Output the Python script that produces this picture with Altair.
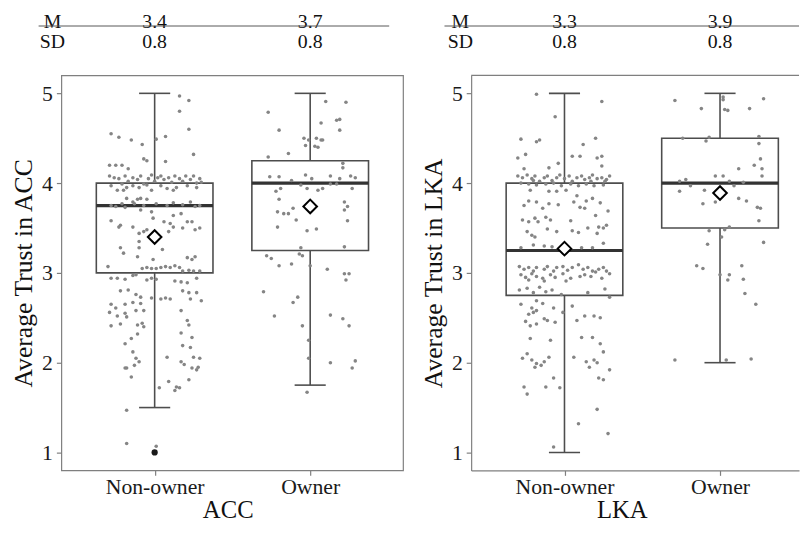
import altair as alt
import pandas as pd

FONT = "Liberation Serif"
PT = "#858585"
BOX = "#4d4d4d"
FRAME = "#7f7f7f"

groups = ["Non-owner", "Owner"]

# summary table above each panel
acc_mean = [3.4, 3.7]
acc_sd = [0.8, 0.8]
lka_mean = [3.3, 3.9]
lka_sd = [0.8, 0.8]

# box statistics
acc_low = [1.5, 1.75]
acc_q1 = [3.0, 3.25]
acc_median = [3.75, 4.0]
acc_q3 = [4.0, 4.25]
acc_high = [5.0, 5.0]
acc_mean_marker = [3.40, 3.74]
acc_outlier_group = ["Non-owner"]
acc_outlier_value = [1.0]

lka_low = [1.0, 2.0]
lka_q1 = [2.75, 3.5]
lka_median = [3.25, 4.0]
lka_q3 = [4.0, 4.5]
lka_high = [5.0, 5.0]
lka_mean_marker = [3.27, 3.89]

# jittered observations: horizontal jitter (category units) and value
acc_non_jit = [0.16, 0.22, 0.16, 0.22, 0.25, -0.28, -0.23, -0.15, 0.01, 0.07, -0.08, -0.07, -0.05, 0.07, -0.29, -0.25, -0.21, -0.17, -0.29,
               -0.26, -0.23, -0.19, -0.17, -0.14, -0.11, -0.09, -0.07, -0.04, -0.02, 0.00, 0.02, 0.04, 0.06, 0.09, 0.11, 0.13, 0.16, 0.18, 0.20, 0.23, 0.25, 0.27, 0.29,
               -0.21, -0.18, -0.14, -0.10, -0.05, 0.04, 0.08, 0.14, 0.21, 0.27, 0.30, -0.28, -0.24, -0.20, -0.02, 0.12,
               -0.28, -0.25, -0.21, -0.19, -0.14, -0.11, -0.09, -0.05, -0.18, -0.13, -0.07, 0.01, 0.08, 0.12, 0.18, 0.23, 0.26, 0.29,
               -0.28, -0.23, -0.22, -0.14, -0.10, -0.07, -0.05, -0.01, 0.06, 0.10, 0.12, 0.17, 0.21, 0.24, 0.29, 0.26, 0.18, 0.12, 0.09, -0.09, -0.02, 0.05, -0.10, -0.10, -0.22, -0.20, -0.11, -0.01, 0.26, 0.24, 0.21,
               -0.30, -0.28, -0.24, -0.19, -0.12, -0.08, -0.05, -0.02, 0.01, 0.04, 0.07, 0.10, 0.13, 0.16, 0.18, 0.22, 0.25, 0.29, -0.02, 0.01, -0.05, -0.14, 0.13, 0.17, 0.21, 0.27,
               -0.22, -0.17, -0.12, -0.09, -0.02, 0.04, 0.07, 0.10, 0.18, 0.22, 0.27, 0.30, 0.23, -0.28, -0.25, -0.19, -0.14, -0.09, -0.29, -0.24, -0.19, -0.18, -0.12, -0.07, 0.17,
               -0.28, -0.22, -0.11, -0.08, -0.07, 0.17, 0.21, 0.22, 0.24, -0.19, -0.15, -0.11, 0.18, 0.23, -0.14, -0.12, 0.25, 0.29, 0.28, 0.27, 0.24, 0.17, 0.19, -0.19, -0.18, -0.10, -0.13, -0.15, 0.08, 0.09, 0.22, 0.03, 0.14, 0.16, 0.13, -0.18, -0.18, 0.01]
acc_non_val = [4.97, 4.92, 4.80, 4.60, 4.32, 4.55, 4.51, 4.48, 4.49, 4.52, 4.43, 4.27, 4.25, 4.24, 4.20, 4.20, 4.20, 4.16, 4.08,
               4.06, 4.05, 4.08, 4.02, 4.06, 4.04, 4.08, 3.99, 4.05, 4.09, 4.02, 4.06, 4.08, 4.04, 4.06, 4.01, 4.08, 4.05, 4.02, 4.08, 4.04, 4.08, 4.00, 4.05,
               3.99, 3.95, 3.97, 3.95, 3.98, 3.97, 3.94, 3.95, 3.97, 3.95, 4.01, 3.97, 3.92, 3.92, 3.92, 3.92,
               3.75, 3.74, 3.77, 3.73, 3.79, 3.82, 3.83, 3.82, 3.83, 3.77, 3.75, 3.77, 3.75, 3.78, 3.76, 3.79, 3.74, 3.75,
               3.58, 3.51, 3.53, 3.51, 3.44, 3.46, 3.48, 3.61, 3.57, 3.55, 3.64, 3.66, 3.57, 3.57, 3.50, 3.48, 3.50, 3.51, 3.46, 3.70, 3.68, 3.26, 3.35, 3.28, 3.28, 3.22, 3.18, 3.15, 3.18, 3.15, 3.17,
               3.07, 2.94, 2.94, 2.93, 2.98, 3.05, 3.06, 3.05, 3.05, 3.06, 3.07, 3.06, 3.08, 3.06, 3.02, 3.03, 3.02, 3.02, 2.94, 2.93, 2.92, 2.97, 2.91, 2.90, 2.89, 2.94,
               2.80, 2.81, 2.76, 2.73, 2.72, 2.71, 2.72, 2.71, 2.80, 2.78, 2.78, 2.69, 2.71, 2.65, 2.61, 2.65, 2.67, 2.66, 2.56, 2.52, 2.55, 2.51, 2.58, 2.58, 2.58,
               2.41, 2.43, 2.42, 2.44, 2.40, 2.33, 2.47, 2.42, 2.28, 2.21, 2.27, 2.32, 2.19, 2.17, 2.12, 2.05, 2.06, 2.05, 1.95, 1.92, 1.94, 2.01, 1.98, 1.94, 1.94, 2.01, 1.97, 1.84, 2.06, 1.79, 1.81, 1.72, 1.73, 1.72, 1.69, 1.47, 1.10, 1.07]

acc_own_jit = [0.10, 0.23, -0.27, -0.20, 0.07, 0.17, 0.19, 0.19, -0.04, -0.01, 0.04, 0.07, 0.08, -0.03, 0.03, 0.05, -0.27, -0.14, 0.21, 0.21,
               -0.26, -0.20, -0.03, 0.01, 0.13, 0.19, 0.26, 0.29, -0.22, -0.19, -0.12, -0.06, -0.02, 0.05, 0.08, 0.13, 0.17, 0.27,
               -0.20, -0.21, -0.17, -0.14, -0.11, -0.09, 0.22, 0.24, 0.22, 0.24, -0.21, -0.02, 0.04, 0.22, -0.06, -0.07, -0.05, -0.28, -0.25,
               -0.20, -0.12, 0.00, 0.11, 0.22, 0.25, 0.23, -0.30, -0.08, -0.11, -0.23, -0.05, 0.13, 0.21, 0.25, -0.01, -0.01, 0.13, 0.29, 0.27, -0.02]
acc_own_val = [4.91, 4.90, 4.79, 4.59, 4.67, 4.70, 4.71, 4.59, 4.50, 4.48, 4.50, 4.48, 4.48, 4.42, 4.41, 4.40, 4.29, 4.33, 4.22, 4.17,
               4.07, 4.07, 4.09, 4.05, 4.08, 4.05, 4.08, 4.06, 3.91, 3.94, 4.03, 3.98, 3.94, 3.92, 3.94, 3.99, 3.99, 3.94,
               3.82, 3.68, 3.66, 3.66, 3.72, 3.59, 3.79, 3.74, 3.70, 3.58, 3.51, 3.47, 3.49, 3.29, 3.28, 3.21, 3.19, 3.19, 3.16,
               3.08, 3.10, 3.08, 3.04, 2.99, 2.99, 2.92, 2.79, 2.73, 2.67, 2.52, 2.41, 2.53, 2.49, 2.41, 2.25, 2.05, 2.00, 2.02, 1.94, 1.67]

lka_non_jit = [-0.18, -0.06, 0.24, -0.28, -0.25, -0.30, -0.18, -0.16, -0.10, -0.04, 0.05, 0.10, 0.12, 0.20, 0.24, 0.24, -0.26, 0.21,
               -0.30, -0.27, -0.24, -0.21, -0.19, -0.16, -0.13, -0.11, -0.08, -0.05, -0.03, 0.00, 0.03, 0.05, 0.08, 0.11, 0.13, 0.16, 0.18, 0.21, 0.24, 0.26, 0.29,
               -0.28, -0.23, -0.18, -0.12, -0.07, -0.02, 0.04, 0.09, 0.14, 0.19, 0.25, 0.27, -0.20, 0.17,
               -0.22, -0.10, -0.05, 0.01, 0.08, 0.14, 0.18, 0.23, 0.28, -0.26, -0.23, -0.18, -0.14, -0.10, -0.04, 0.06, 0.10,
               -0.27, -0.23, -0.19, -0.17, -0.12, -0.09, 0.04, 0.13, 0.20, 0.25, 0.22, -0.24, -0.21, -0.19, -0.11, -0.05, 0.05, 0.09, 0.15, 0.21, 0.27,
               -0.20, -0.13, 0.25, -0.28, -0.08, 0.11, 0.18,
               -0.29, -0.26, -0.23, -0.20, -0.18, -0.13, -0.11, -0.07, -0.05, -0.01, 0.02, 0.05, 0.09, 0.12, 0.15, 0.18, 0.22, 0.25, 0.27,
               -0.28, -0.25, -0.21, -0.18, -0.14, -0.09, -0.06, -0.01, 0.04, 0.10, 0.13, 0.17, 0.20, 0.24, 0.29, -0.23, -0.13, 0.01,
               -0.29, -0.24, -0.20, -0.16, -0.12, -0.08, -0.02, 0.15, 0.29, 0.26,
               -0.18, -0.14, -0.28, -0.21, -0.07, 0.05, -0.23, -0.20, -0.18, -0.13, -0.11, -0.06, -0.01, 0.08, 0.13, 0.19, 0.23, -0.25, -0.22, -0.18,
               -0.22, -0.09, 0.11, 0.18, 0.23, -0.24, -0.27, -0.21, -0.19, -0.18, -0.15, -0.13, -0.10, 0.06, 0.14, 0.16, 0.19, 0.21, 0.25,
               -0.26, -0.24, -0.12, -0.07, -0.03, 0.22, 0.25, 0.29, 0.21, 0.09, 0.28, -0.07]
lka_non_val = [4.99, 4.74, 4.91, 4.49, 4.32, 4.28, 4.46, 4.48, 4.17, 4.22, 4.30, 4.30, 4.43, 4.50, 4.30, 4.19, 4.16, 4.28,
               4.08, 4.06, 4.09, 4.05, 4.08, 4.02, 4.06, 4.08, 4.03, 4.06, 4.09, 4.05, 4.08, 4.02, 4.06, 4.08, 4.04, 4.06, 4.09, 4.05, 4.06, 4.02, 4.08,
               4.00, 3.99, 3.98, 3.99, 4.00, 3.97, 3.99, 3.97, 3.99, 3.97, 3.98, 4.04, 4.03, 4.02,
               3.92, 3.91, 3.91, 3.92, 3.86, 3.80, 3.83, 3.78, 3.69, 3.75, 3.80, 3.79, 3.72, 3.77, 3.76, 3.79, 3.73,
               3.59, 3.57, 3.61, 3.57, 3.62, 3.59, 3.58, 3.72, 3.64, 3.50, 3.51, 3.46, 3.42, 3.40, 3.49, 3.46, 3.47, 3.45, 3.50, 3.44, 3.53,
               3.31, 3.30, 3.33, 3.28, 3.29, 3.28, 3.28,
               3.07, 3.04, 3.06, 3.02, 3.06, 3.04, 3.07, 3.02, 3.06, 3.07, 3.03, 3.06, 3.09, 3.04, 3.06, 3.02, 3.04, 3.06, 3.02,
               2.98, 2.95, 2.99, 2.96, 2.94, 2.98, 2.95, 2.99, 2.94, 2.96, 2.98, 2.96, 3.01, 2.94, 2.99, 2.92, 2.91, 2.91,
               2.81, 2.83, 2.78, 2.84, 2.79, 2.81, 2.76, 2.78, 2.73, 2.82,
               2.69, 2.66, 2.65, 2.61, 2.61, 2.63, 2.54, 2.56, 2.58, 2.49, 2.47, 2.45, 2.56, 2.47, 2.52, 2.52, 2.50, 2.46, 2.41, 2.43,
               2.27, 2.25, 2.28, 2.28, 2.21, 2.10, 2.05, 2.03, 1.95, 1.99, 1.97, 2.01, 2.06, 2.06, 2.01, 1.95, 2.03, 2.00, 2.12,
               1.73, 1.65, 1.73, 1.83, 1.72, 1.83, 1.81, 1.92, 1.48, 1.32, 1.21, 1.06]

lka_own_jit = [-0.29, -0.12, 0.02, 0.02, 0.03, 0.05, 0.19, 0.28, -0.24, -0.09, -0.07, 0.25, 0.25, 0.12, 0.22, 0.26, 0.27, 0.27,
               -0.26, -0.22, -0.19, -0.03, 0.02, 0.06, 0.09, 0.15, -0.26, -0.10, -0.11, -0.03, 0.12, 0.17, 0.24, 0.26, 0.25,
               -0.07, 0.01, 0.03, 0.06, -0.08, 0.28, -0.15, -0.11, 0.14, 0.00, 0.06, 0.05, 0.15, 0.16, 0.23, -0.29, 0.04, 0.20]
lka_own_val = [4.92, 4.83, 4.96, 4.93, 4.82, 4.81, 4.83, 4.94, 4.50, 4.47, 4.51, 4.52, 4.44, 4.16, 4.20, 4.27, 4.16, 4.08,
               4.02, 4.04, 3.97, 4.08, 4.08, 4.02, 3.97, 4.01, 3.91, 3.92, 3.77, 3.79, 3.83, 3.80, 3.73, 3.72, 3.58,
               3.47, 3.40, 3.48, 3.51, 3.32, 3.34, 3.08, 3.05, 3.08, 2.98, 2.98, 2.92, 2.93, 2.77, 2.65, 2.03, 2.03, 2.04]

H = 400
UNIT = 157.5
TFS = 20  # table font size


def panel(name, mean, sd, low, q1, med, q3, high, mk, pts, outliers, width, frame_full,
          lab_x, rule_x0, rule_x1, title_x):
    xmax = 0.4 + width / UNIT
    idx_of = {g: i + 1 for i, g in enumerate(groups)}
    label_expr = " : ".join(
        [f"datum.value == {i + 1} ? '{g}'" for i, g in enumerate(groups[:-1])] + [f"'{groups[-1]}'"])
    xaxis = alt.Axis(values=[1, 2], labelExpr=label_expr, title="", grid=False,
                     domain=not frame_full, domainColor=FRAME, domainWidth=1.2,
                     tickColor=FRAME, tickSize=5, tickWidth=1.2,
                     labelFont=FONT, labelFontSize=22, labelColor="#1a1a1a", labelPadding=1)
    yaxis = alt.Axis(values=[1, 2, 3, 4, 5], title=f"Average Trust in {name}", grid=False,
                     domain=not frame_full, domainColor=FRAME, domainWidth=1.2,
                     tickColor=FRAME, tickSize=5, tickWidth=1.2,
                     labelFont=FONT, labelFontSize=22, labelColor="#1a1a1a", labelPadding=4,
                     titleFont=FONT, titleFontSize=26, titleFontWeight="normal", titleColor="#111",
                     titlePadding=5)
    xs = alt.Scale(domain=[0.4, xmax], nice=False, zero=False)
    ys = alt.Scale(domain=[0.8, 5.2], nice=False, zero=False)

    def X(f):
        return alt.X(f, type="quantitative", scale=xs, axis=xaxis)

    def Y(f):
        return alt.Y(f, type="quantitative", scale=ys, axis=yaxis)

    stats = pd.DataFrame({"group": groups, "mean": mean, "sd": sd, "low": low, "q1": q1,
                          "median": med, "q3": q3, "high": high, "mk": mk})
    stats["idx"] = stats["group"].map(idx_of)
    base = alt.Chart(stats).transform_calculate(
        box_lo="datum.idx - 0.375", box_hi="datum.idx + 0.375",
        cap_lo="datum.idx - 0.1", cap_hi="datum.idx + 0.1")

    whisk = base.mark_rule(color=BOX, strokeWidth=1.6).encode(x=X("idx"), y=Y("low"), y2="high")
    cap_lo = base.mark_rule(color=BOX, strokeWidth=1.6).encode(x=X("cap_lo"), x2="cap_hi", y=Y("low"))
    cap_hi = base.mark_rule(color=BOX, strokeWidth=1.6).encode(x=X("cap_lo"), x2="cap_hi", y=Y("high"))
    box = base.mark_rect(fill="white", stroke=BOX, strokeWidth=1.6).encode(
        x=X("box_lo"), x2="box_hi", y=Y("q1"), y2="q3")
    median = base.mark_rule(color="#333333", strokeWidth=3.2).encode(
        x=X("box_lo"), x2="box_hi", y=Y("median"))

    pdf = pd.DataFrame({"group": pts[0], "jit": pts[1], "value": pts[2]})
    pdf["idx"] = pdf["group"].map(idx_of)
    points = alt.Chart(pdf).transform_calculate(xj="datum.idx + datum.jit").mark_circle(
        size=13, color=PT, opacity=1).encode(x=X("xj"), y=Y("value"))

    diamond = base.mark_point(shape="diamond", filled=True, fill="white", stroke="black",
                              strokeWidth=2, size=190, opacity=1).encode(x=X("idx"), y=Y("mk"))

    layers = [whisk, cap_lo, cap_hi, box, median, points, diamond]
    if outliers is not None:
        odf = pd.DataFrame({"group": outliers[0], "value": outliers[1]})
        odf["idx"] = odf["group"].map(idx_of)
        layers.append(alt.Chart(odf).mark_circle(size=40, color="#1a1a1a", opacity=1).encode(
            x=X("idx"), y=Y("value")))

    # summary table
    tm = base.mark_text(font=FONT, fontSize=TFS, color="#111", align="center").encode(
        x=X("idx"), y=alt.value(-54), text=alt.Text("mean:Q", format=".1f"))
    ts = base.mark_text(font=FONT, fontSize=TFS, color="#111", align="center").encode(
        x=X("idx"), y=alt.value(-34), text=alt.Text("sd:Q", format=".1f"))
    lm = alt.Chart(pd.DataFrame({"t": ["M"]})).mark_text(font=FONT, fontSize=TFS, color="#111", align="center").encode(
        x=alt.value(lab_x), y=alt.value(-54), text="t:N")
    ls = alt.Chart(pd.DataFrame({"t": ["SD"]})).mark_text(font=FONT, fontSize=TFS, color="#111", align="center").encode(
        x=alt.value(lab_x), y=alt.value(-34), text="t:N")
    tr = alt.Chart(pd.DataFrame({"t": [0]})).mark_rule(color="#555", strokeWidth=1).encode(
        x=alt.value(rule_x0), x2=alt.value(rule_x1), y=alt.value(-50))
    # x-axis title
    xt = alt.Chart(pd.DataFrame({"t": [name]})).mark_text(font=FONT, fontSize=25, color="#111", align="center").encode(
        x=alt.value(title_x), y=alt.value(H + 40), text="t:N")
    layers += [tm, ts, lm, ls, tr, xt]

    if frame_full:
        view = alt.ViewBackground(stroke=FRAME, strokeWidth=1.2)
    else:
        view = alt.ViewBackground(stroke="transparent")
        top = alt.Chart(pd.DataFrame({"t": [0]})).mark_rule(color=FRAME, strokeWidth=1.2).encode(
            x=alt.value(0), x2=alt.value(width), y=alt.value(0))
        layers.append(top)

    return alt.layer(*layers).properties(width=width, height=H, view=view)


acc_pts = (["Non-owner"] * len(acc_non_val) + ["Owner"] * len(acc_own_val),
           acc_non_jit + acc_own_jit, acc_non_val + acc_own_val)
lka_pts = (["Non-owner"] * len(lka_non_val) + ["Owner"] * len(lka_own_val),
           lka_non_jit + lka_own_jit, lka_non_val + lka_own_val)

left = panel("ACC", acc_mean, acc_sd, acc_low, acc_q1, acc_median, acc_q3, acc_high, acc_mean_marker,
             acc_pts, (acc_outlier_group, acc_outlier_value), 346, True, -9, -23, 332, 169)
right = panel("LKA", lka_mean, lka_sd, lka_low, lka_q1, lka_median, lka_q3, lka_high, lka_mean_marker,
              lka_pts, None, 332, False, -11, -27, 332, 153)

chart = alt.hconcat(left, right, spacing=16).properties(
    padding={"left": 2, "top": 0, "right": 0, "bottom": -5},
    background="white",
).configure(font=FONT)

chart.save("out.html", embed_options={"renderer": "svg", "actions": False})
